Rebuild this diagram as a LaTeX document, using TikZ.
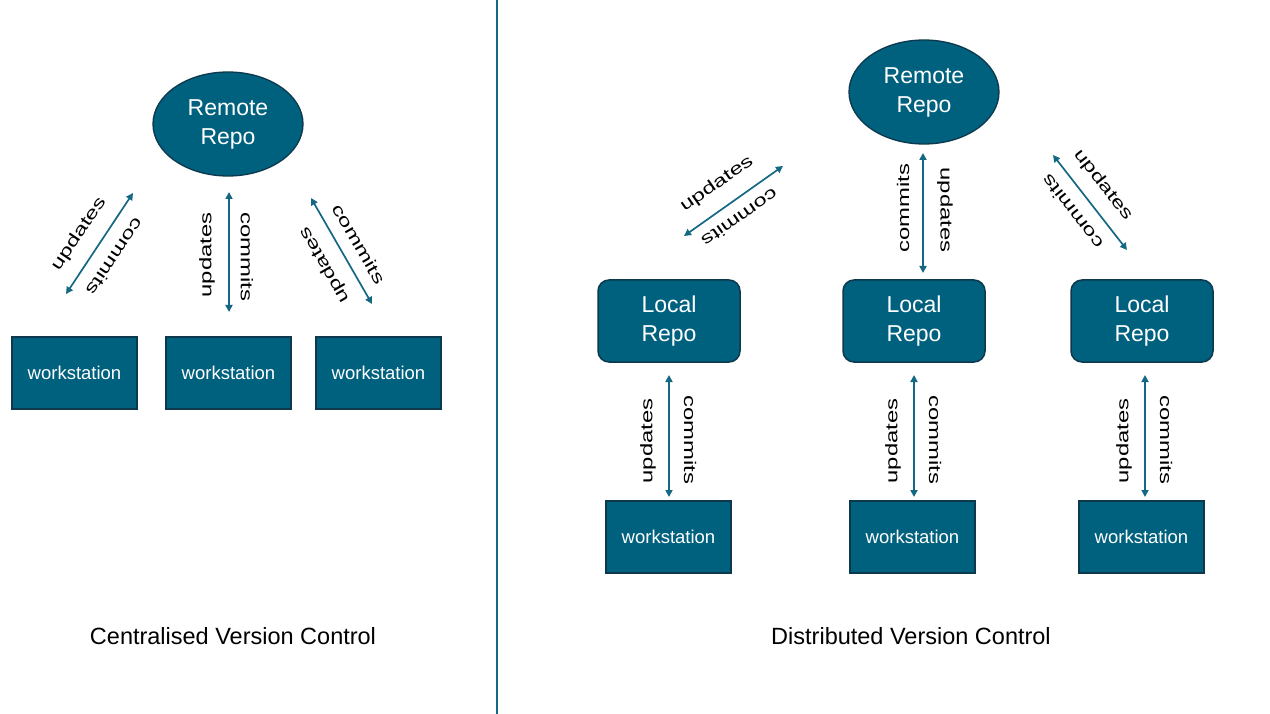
\documentclass[tikz,border=0pt]{standalone}
\usepackage{fontspec}
\setmainfont{Liberation Sans}
\usetikzlibrary{shapes.geometric,arrows.meta}
\definecolor{tealfill}{RGB}{0,97,127}
\definecolor{tealdark}{RGB}{14,56,76}
\definecolor{arrowc}{RGB}{20,104,132}
\tikzset{
  remote/.style={ellipse,fill=tealfill,draw=tealdark,line width=1.3pt,minimum width=150pt,minimum height=104pt,inner sep=0pt,text=white,align=center,font=\fontsize{23}{29}\selectfont},
  localrepo/.style={rectangle,rounded corners=11pt,fill=tealfill,draw=tealdark,line width=1.5pt,minimum width=142pt,minimum height=82pt,inner sep=0pt,text=white,align=center,font=\fontsize{23}{29}\selectfont},
  ws/.style={rectangle,fill=tealfill,draw=tealdark,line width=1.6pt,minimum width=125pt,minimum height=72pt,inner sep=0pt,text=white,font=\fontsize{18.5}{20}\selectfont},
  arr/.style={draw=arrowc,line width=1.7pt,{Triangle[width=7pt,length=7pt]}-{Triangle[width=7pt,length=7pt]}},
  lbl/.style={inner sep=0pt,font=\fontsize{16.8}{18}\selectfont},
  caption/.style={inner sep=0pt,font=\fontsize{23.5}{26}\selectfont},
  divider/.style={draw=arrowc,line width=1.4pt}
}
\newcommand{\stretchlbl}[1]{\scalebox{1.42}[1]{#1}}
\begin{document}
\begin{tikzpicture}[x=1pt,y=-1pt]
\useasboundingbox (0,0) rectangle (1270,714);
% divider
\coordinate (dtop) at (497,0);
\coordinate (dbot) at (497,714);
\draw[divider] (dtop) -- (dbot);

% ---------- Centralised ----------
\node[remote] (remL) at (228,124) {Remote\\Repo};
\node[ws] (wsL1) at (74.5,373) {workstation};
\node[ws] (wsL2) at (228.5,373) {workstation};
\node[ws] (wsL3) at (378.5,373) {workstation};

\coordinate (a1s) at (66,294);  \coordinate (a1e) at (133,193);
\coordinate (a2s) at (229,312); \coordinate (a2e) at (229,192);
\coordinate (a3s) at (372,304); \coordinate (a3e) at (311,198);
\draw[arr] (a1s) -- (a1e);
\draw[arr] (a2s) -- (a2e);
\draw[arr] (a3s) -- (a3e);

\node[lbl,rotate=56] (l1u) at (79,234) {\stretchlbl{updates}};
\node[lbl,rotate=-124] (l1c) at (115,257) {\stretchlbl{commits}};
\node[lbl,rotate=90] (l2u) at (207,255) {\stretchlbl{updates}};
\node[lbl,rotate=-90] (l2c) at (247,257) {\stretchlbl{commits}};
\node[lbl,rotate=-60] (l3c) at (359,244) {\stretchlbl{commits}};
\node[lbl,rotate=120] (l3u) at (325,265) {\stretchlbl{updates}};

\node[caption] (capL) at (233,636) {Centralised Version Control};

% ---------- Distributed ----------
\node[remote] (remR) at (924,92) {Remote\\Repo};
\node[localrepo] (lr1) at (669,321) {Local\\Repo};
\node[localrepo] (lr2) at (914,321) {Local\\Repo};
\node[localrepo] (lr3) at (1142,321) {Local\\Repo};
\node[ws] (wsR1) at (668.5,537) {workstation};
\node[ws] (wsR2) at (912.5,537) {workstation};
\node[ws] (wsR3) at (1141.5,537) {workstation};

\coordinate (b1s) at (684,236);  \coordinate (b1e) at (783,166);
\coordinate (b2s) at (923,273);  \coordinate (b2e) at (923,153);
\coordinate (b3s) at (1127,250); \coordinate (b3e) at (1053,155);
\draw[arr] (b1s) -- (b1e);
\draw[arr] (b2s) -- (b2e);
\draw[arr] (b3s) -- (b3e);

\node[lbl,rotate=35] (m1u) at (717,184) {\stretchlbl{updates}};
\node[lbl,rotate=-145] (m1c) at (740,218) {\stretchlbl{commits}};
\node[lbl,rotate=90] (m2c) at (903,208) {\stretchlbl{commits}};
\node[lbl,rotate=-90] (m2u) at (945,210) {\stretchlbl{updates}};
\node[lbl,rotate=-52] (m3u) at (1103,185) {\stretchlbl{updates}};
\node[lbl,rotate=128] (m3c) at (1072,212) {\stretchlbl{commits}};

\coordinate (c1s) at (669,497);  \coordinate (c1e) at (669,375);
\coordinate (c2s) at (914,497);  \coordinate (c2e) at (914,375);
\coordinate (c3s) at (1145,497); \coordinate (c3e) at (1145,375);
\draw[arr] (c1s) -- (c1e);
\draw[arr] (c2s) -- (c2e);
\draw[arr] (c3s) -- (c3e);

\node[lbl,rotate=90] (n1u) at (648,441) {\stretchlbl{updates}};
\node[lbl,rotate=-90] (n1c) at (690,440) {\stretchlbl{commits}};
\node[lbl,rotate=90] (n2u) at (893,441) {\stretchlbl{updates}};
\node[lbl,rotate=-90] (n2c) at (935,440) {\stretchlbl{commits}};
\node[lbl,rotate=90] (n3u) at (1124,441) {\stretchlbl{updates}};
\node[lbl,rotate=-90] (n3c) at (1166,440) {\stretchlbl{commits}};

\node[caption] (capR) at (911,636) {Distributed Version Control};
\end{tikzpicture}
\end{document}
